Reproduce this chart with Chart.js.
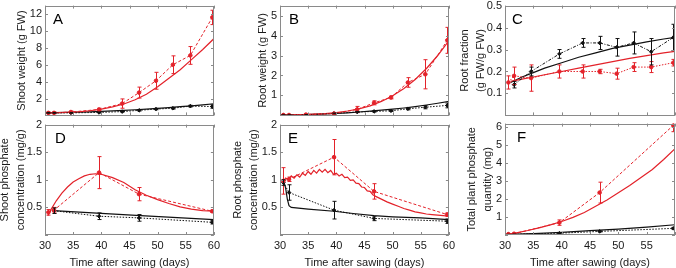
<!DOCTYPE html>
<html>
<head>
<meta charset="utf-8">
<script src="https://cdn.jsdelivr.net/npm/chart.js@4.4.1/dist/chart.umd.min.js"></script>
<style>
  html, body { margin: 0; padding: 0; background: #fff; overflow: hidden; width: 676px; height: 268px; }
  #wrap { position: relative; width: 676px; height: 268px; overflow: hidden; }
  #wrap canvas { position: absolute; }
</style>
</head>
<body>
<div id="wrap"></div>
<script>
// ── observation days ─────────────────────────────────────────────
const growthDays = [30.6, 31.6, 34.6, 39.6, 43.7, 46.7, 49.7, 52.7, 55.8, 59.7];
const phDays     = [30.6, 31.6, 39.6, 46.7, 59.7];

// ── A. shoot weight (g FW) ───────────────────────────────────────
const shootRed      = [0.3, 0.3, 0.4, 0.7, 1.4, 2.7, 4.1, 6.0, 7.1, 11.6];
const shootRedErr   = [0.1, 0.1, 0.1, 0.15, 0.55, 0.65, 1.0, 1.05, 1.05, 0.85];
const shootBlack    = [0.3, 0.3, 0.3, 0.35, 0.45, 0.6, 0.75, 0.85, 1.1, 1.05];
const shootBlackErr = [0.05, 0.05, 0.05, 0.05, 0.05, 0.08, 0.08, 0.1, 0.1, 0.2];
const growthModelDays = [30, 32, 34, 36, 38, 40, 42, 44, 46, 48, 50, 52, 54, 56, 58, 60];
const shootRedModel   = [0.3, 0.32, 0.36, 0.42, 0.55, 0.75, 1.0, 1.35, 1.85, 2.5, 3.4, 4.4, 5.4, 6.6, 7.8, 9.1];
const shootBlackModel = [0.3, 0.32, 0.35, 0.38, 0.42, 0.47, 0.53, 0.6, 0.67, 0.75, 0.84, 0.93, 1.03, 1.13, 1.25, 1.38];

// ── B. root weight (g FW) ────────────────────────────────────────
const rootRed      = [0.02, 0.02, 0.04, 0.09, 0.3, 0.63, 0.9, 1.65, 2.06, 3.76];
const rootRedErr   = [0.02, 0.02, 0.02, 0.04, 0.15, 0.1, 0.07, 0.24, 0.73, 0.65];
const rootBlack    = [0.02, 0.02, 0.03, 0.1, 0.17, 0.2, 0.23, 0.33, 0.41, 0.5];
const rootBlackErr = [0.01, 0.01, 0.01, 0.02, 0.03, 0.03, 0.03, 0.05, 0.08, 0.12];
const rootRedModel   = [0.02, 0.03, 0.04, 0.06, 0.09, 0.14, 0.22, 0.33, 0.48, 0.7, 0.98, 1.35, 1.8, 2.35, 3.0, 3.75];
const rootBlackModel = [0.02, 0.03, 0.04, 0.05, 0.07, 0.1, 0.13, 0.17, 0.21, 0.26, 0.31, 0.37, 0.44, 0.52, 0.61, 0.7];

// ── C. root fraction (g FW/g FW) ─────────────────────────────────
const fracRed      = [0.15, 0.18, 0.17, 0.2, 0.2, 0.2, 0.19, 0.22, 0.22, 0.24];
const fracRedErr   = [0.03, 0.04, 0.06, 0.03, 0.03, 0.01, 0.025, 0.02, 0.025, 0.015];
const fracBlack    = [null, 0.14, 0.2, 0.28, 0.33, 0.33, 0.31, 0.33, 0.29, 0.355];
const fracBlackErr = [0, 0.015, 0.02, 0.02, 0.02, 0.03, 0.04, 0.05, 0.06, 0.06];
const fracModelDays   = [31, 33, 35, 37, 40, 43, 46, 49, 52, 55, 58, 60];
const fracRedModel    = [0.155, 0.165, 0.175, 0.185, 0.2, 0.215, 0.23, 0.245, 0.26, 0.272, 0.285, 0.292];
const fracBlackModel  = [0.15, 0.175, 0.195, 0.215, 0.24, 0.265, 0.285, 0.305, 0.32, 0.335, 0.348, 0.355];

// ── D. shoot phosphate concentration (mg/g) ──────────────────────
const shootPRed      = [0.41, 0.45, 1.13, 0.74, 0.43];
const shootPRedErr   = [0.05, 0.05, 0.29, 0.12, 0.02];
const shootPBlack    = [null, 0.44, 0.34, 0.31, 0.23];
const shootPBlackErr = [0, 0.05, 0.06, 0.06, 0.03];
const shootPModelDays = [30.5, 31, 32, 33, 34, 35, 36, 37, 38, 39, 40, 42, 44, 46, 48, 50, 52, 54, 56, 58, 60];
const shootPRedModel  = [0.35, 0.45, 0.62, 0.76, 0.87, 0.96, 1.02, 1.07, 1.1, 1.11, 1.1, 1.04, 0.95, 0.82, 0.72, 0.64, 0.57, 0.51, 0.47, 0.44, 0.43];
const shootPBlackModelDays = [31.5, 40, 47, 60];
const shootPBlackModel     = [0.44, 0.39, 0.35, 0.28];

// ── E. root phosphate concentration (mg/g) ───────────────────────
const rootPRed      = [0.98, 1.01, 1.41, 0.79, 0.37];
const rootPRedErr   = [0.24, 0.04, 0.32, 0.14, 0.03];
const rootPBlack    = [0.95, 0.77, 0.45, 0.3, 0.25];
const rootPBlackErr = [0.05, 0.14, 0.16, 0.04, 0.04];
const rootPModelDays = [30.6, 31, 31.5, 32, 32.5, 33, 33.5, 34, 34.5, 35, 35.5, 36, 36.5, 37, 37.5, 38, 38.5, 39, 39.5, 40,
                        40.5, 41, 41.5, 42, 42.5, 43, 43.5, 44, 44.5, 45, 45.5, 46, 46.5, 47, 48, 49, 50, 51, 52, 53, 54,
                        55, 56, 57, 58, 59, 60];
const rootPRedModel  = [0.97, 1.03, 1.0, 1.07, 1.03, 1.09, 1.05, 1.12, 1.08, 1.15, 1.1, 1.17, 1.12, 1.19, 1.14, 1.19, 1.13, 1.17, 1.1, 1.12,
                        1.07, 1.1, 1.04, 1.05, 0.99, 1.0, 0.94, 0.93, 0.87, 0.86, 0.8, 0.79, 0.73, 0.7, 0.65, 0.6, 0.56, 0.52, 0.48, 0.45, 0.42,
                        0.4, 0.38, 0.37, 0.36, 0.35, 0.34];
const rootPBlackModelDays = [30.6, 31, 31.3, 31.6, 32, 35, 39.6, 43, 46.7, 50, 55, 60];
const rootPBlackModel     = [1.0, 0.85, 0.65, 0.53, 0.5, 0.47, 0.43, 0.39, 0.35, 0.33, 0.31, 0.28];

// ── F. total plant phosphate quantity (mg) ───────────────────────
const totPRed      = [0.05, 0.07, 0.69, 2.36, 6.1];
const totPRedErr   = [0.03, 0.03, 0.15, 0.58, 0.35];
const totPBlack    = [0.03, 0.04, 0.1, 0.2, 0.37];
const totPBlackErr = [0.01, 0.01, 0.02, 0.03, 0.05];
const totPModelDays  = [30.6, 32, 34, 36, 38, 40, 42, 44, 46, 48, 50, 52, 54, 56, 58, 60];
const totPRedModel   = [0.05, 0.12, 0.25, 0.4, 0.56, 0.75, 0.98, 1.25, 1.6, 1.95, 2.35, 2.75, 3.2, 3.65, 4.2, 4.8];
const totPBlackModelDays = [30.6, 35, 40, 45, 50, 55, 60];
const totPBlackModel     = [0.03, 0.08, 0.15, 0.24, 0.33, 0.44, 0.57];

const dayTicks = [30, 35, 40, 45, 50, 55, 60];

const RED = '#e3222a';
const BLACK = '#111111';
const FONT = '"Liberation Sans", Arial, sans-serif';
const TEXT = '#1a1a1a';

function pts(xs, ys) { return xs.map((x, i) => ({ x, y: ys[i] })); }

function obs(xs, ys, err, color, dash, style) {
  return {
    data: pts(xs, ys), errors: err,
    borderColor: color, backgroundColor: color,
    borderWidth: 1, borderDash: dash,
    pointRadius: 1.8, pointStyle: style, pointBorderWidth: 1,
    tension: 0
  };
}

function model(xs, ys, color) {
  return { data: pts(xs, ys), borderColor: color, borderWidth: 1.2, pointRadius: 0, tension: 0 };
}

// error bars, box, inward ticks and panel letter
const decor = {
  id: 'decor',
  afterDatasetsDraw(chart, args, opts) {
    const { ctx, chartArea: a, scales: { x, y } } = chart;
    ctx.save();
    ctx.beginPath();
    ctx.rect(a.left, a.top, a.right - a.left, a.bottom - a.top);
    ctx.clip();
    chart.data.datasets.forEach(ds => {
      if (!ds.errors) return;
      ctx.strokeStyle = ds.borderColor;
      ctx.lineWidth = 1;
      ds.data.forEach((p, j) => {
        const e = ds.errors[j];
        if (p.y == null || !e) return;
        const px = Math.round(x.getPixelForValue(p.x)) + 0.5;
        const y1 = y.getPixelForValue(p.y + e);
        const y2 = y.getPixelForValue(p.y - e);
        ctx.beginPath();
        ctx.moveTo(px, y1); ctx.lineTo(px, y2);
        ctx.moveTo(px - 2, y1); ctx.lineTo(px + 2, y1);
        ctx.moveTo(px - 2, y2); ctx.lineTo(px + 2, y2);
        ctx.stroke();
      });
    });
    ctx.restore();

    ctx.save();
    ctx.strokeStyle = '#8a8a8a';
    ctx.lineWidth = 1;
    ctx.strokeRect(Math.round(a.left) + 0.5, Math.round(a.top) + 0.5,
                   Math.round(a.right - a.left) - 1, Math.round(a.bottom - a.top) - 1);
    ctx.beginPath();
    x.ticks.forEach(t => {
      const px = Math.round(x.getPixelForValue(t.value)) + 0.5;
      ctx.moveTo(px, a.bottom); ctx.lineTo(px, a.bottom - 3);
      ctx.moveTo(px, a.top); ctx.lineTo(px, a.top + 3);
    });
    y.ticks.forEach(t => {
      const py = Math.round(y.getPixelForValue(t.value)) + 0.5;
      ctx.moveTo(a.left, py); ctx.lineTo(a.left + 3, py);
      ctx.moveTo(a.right, py); ctx.lineTo(a.right - 3, py);
    });
    ctx.stroke();
    ctx.fillStyle = '#000';
    ctx.font = '15px ' + FONT;
    ctx.textBaseline = 'alphabetic';
    ctx.fillText(opts.letter, a.left + opts.lx, a.top + 18);
    ctx.restore();
  }
};

function makePanel(p) {
  const padT = 8, padR = 10;
  const xH = p.bottomRow ? 268 - p.bottom : 8;
  const cLeft = p.titleX - 8;
  const cTop = p.top - padT;
  const yW = p.left - cLeft;
  const w = p.right - cLeft + padR;
  const h = p.bottom - cTop + xH;

  const canvas = document.createElement('canvas');
  canvas.width = w; canvas.height = h;
  canvas.style.left = cLeft + 'px';
  canvas.style.top = cTop + 'px';
  canvas.style.width = w + 'px';
  canvas.style.height = h + 'px';
  document.getElementById('wrap').appendChild(canvas);

  new Chart(canvas.getContext('2d'), {
    type: 'line',
    data: { datasets: p.datasets },
    plugins: [decor],
    options: {
      responsive: false,
      animation: false,
      devicePixelRatio: 1,
      layout: { padding: { top: padT, right: padR, left: 0, bottom: 0 } },
      plugins: {
        legend: { display: false },
        tooltip: { enabled: false },
        decor: { letter: p.letter, lx: p.lx }
      },
      scales: {
        x: {
          type: 'linear', min: 30, max: 60,
          afterBuildTicks: s => { s.ticks = dayTicks.map(v => ({ value: v })); },
          grid: { display: false, drawTicks: false },
          border: { display: false },
          ticks: {
            display: p.bottomRow, padding: 4, color: TEXT, maxRotation: 0,
            font: { family: FONT, size: 11 },
            callback: v => (p.hide60 && v === 60) ? '' : String(v)
          },
          title: {
            display: p.bottomRow, text: 'Time after sawing (days)', color: TEXT,
            font: { family: FONT, size: 11, lineHeight: 1 }, padding: 0
          },
          afterFit: s => { s.height = xH; }
        },
        y: {
          type: 'linear', min: p.yMin, max: p.yMax,
          grid: { display: false, drawTicks: false },
          border: { display: false },
          ticks: {
            stepSize: p.yStep, includeBounds: false, padding: 3, color: TEXT,
            font: { family: FONT, size: 11 },
            callback: v => v === 0 ? '' : String(+v.toFixed(2))
          },
          title: {
            display: true, text: p.yTitle, color: TEXT,
            font: { family: FONT, size: 11, lineHeight: '16px' }, padding: 0
          },
          afterFit: s => { s.width = yW; }
        }
      }
    }
  });
}

makePanel({
  letter: 'A', lx: 8, left: 45, right: 214, top: 4, bottom: 117, titleX: 22, bottomRow: false,
  yMin: 0, yMax: 13, yStep: 2, yTitle: 'Shoot weight (g FW)',
  datasets: [
    obs(growthDays, shootRed, shootRedErr, RED, [3, 2], 'circle'),
    obs(growthDays, shootBlack, shootBlackErr, BLACK, [1.5, 1.5], 'rectRot'),
    model(growthModelDays, shootRedModel, RED),
    model(growthModelDays, shootBlackModel, BLACK)
  ]
});

makePanel({
  letter: 'B', lx: 9, left: 280, right: 449, top: 4, bottom: 117, titleX: 263, bottomRow: false,
  yMin: 0, yMax: 5.5, yStep: 1, yTitle: 'Root weight (g FW)',
  datasets: [
    obs(growthDays, rootRed, rootRedErr, RED, [3, 2], 'circle'),
    obs(growthDays, rootBlack, rootBlackErr, BLACK, [1.5, 1.5], 'rectRot'),
    model(growthModelDays, rootRedModel, RED),
    model(growthModelDays, rootBlackModel, BLACK)
  ]
});

makePanel({
  letter: 'C', lx: 7, left: 505, right: 675, top: 4, bottom: 117, titleX: 465, bottomRow: false,
  yMin: 0, yMax: 0.5, yStep: 0.1, yTitle: ['Root fraction', '(g FW/g FW)'],
  datasets: [
    obs(growthDays, fracRed, fracRedErr, RED, [1.5, 1.5], 'circle'),
    obs(growthDays, fracBlack, fracBlackErr, BLACK, [3, 1.5, 1, 1.5], 'rectRot'),
    model(fracModelDays, fracRedModel, RED),
    model(fracModelDays, fracBlackModel, BLACK)
  ]
});

makePanel({
  letter: 'D', lx: 10, left: 45, right: 214, top: 123, bottom: 235, titleX: 5, bottomRow: true,
  yMin: 0, yMax: 2, yStep: 0.5, yTitle: ['Shoot phosphate', 'concentration (mg/g)'],
  datasets: [
    obs(phDays, shootPRed, shootPRedErr, RED, [3, 2], 'circle'),
    obs(phDays, shootPBlack, shootPBlackErr, BLACK, [1.5, 1.5], 'rectRot'),
    model(shootPModelDays, shootPRedModel, RED),
    model(shootPBlackModelDays, shootPBlackModel, BLACK)
  ]
});

makePanel({
  letter: 'E', lx: 8, left: 280, right: 449, top: 123, bottom: 235, titleX: 238, bottomRow: true,
  yMin: 0, yMax: 2, yStep: 0.5, yTitle: ['Root phosphate', 'concentration (mg/g)'],
  datasets: [
    obs(phDays, rootPRed, rootPRedErr, RED, [3, 2], 'circle'),
    obs(phDays, rootPBlack, rootPBlackErr, BLACK, [1.5, 1.5], 'rectRot'),
    model(rootPModelDays, rootPRedModel, RED),
    model(rootPBlackModelDays, rootPBlackModel, BLACK)
  ]
});

makePanel({
  letter: 'F', lx: 12, left: 505, right: 675, top: 122, bottom: 235, titleX: 472, bottomRow: true, hide60: true,
  yMin: 0, yMax: 6.2, yStep: 1, yTitle: ['Total plant phosphate', 'quantity (mg)'],
  datasets: [
    obs(phDays, totPRed, totPRedErr, RED, [3, 2], 'circle'),
    obs(phDays, totPBlack, totPBlackErr, BLACK, [1.5, 1.5], 'rectRot'),
    model(totPModelDays, totPRedModel, RED),
    model(totPBlackModelDays, totPBlackModel, BLACK)
  ]
});
</script>
</body>
</html>
